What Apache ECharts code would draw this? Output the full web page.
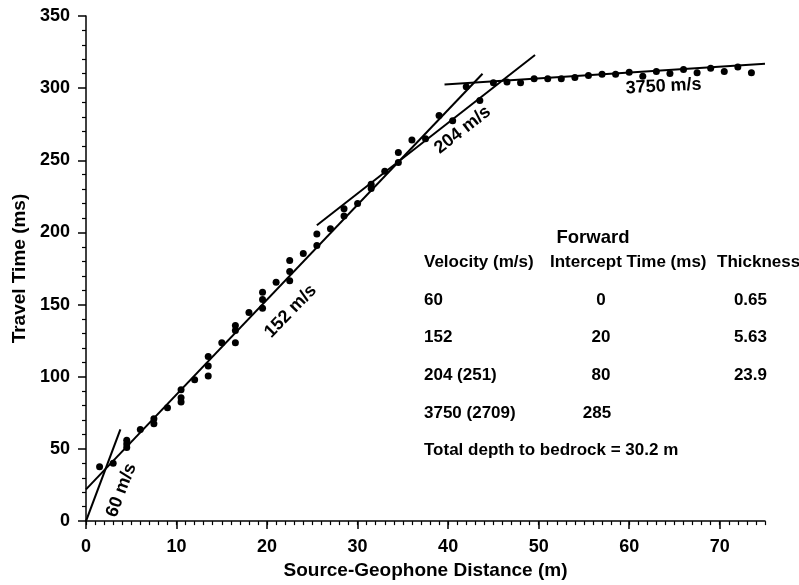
<!DOCTYPE html>
<html><head><meta charset="utf-8">
<script src="https://cdn.jsdelivr.net/npm/echarts@6/dist/echarts.min.js"></script>
<style>html,body{margin:0;padding:0;background:#fff}#c{width:799px;height:585px}</style>
</head><body><div id="c"></div>
<script>
// ---- data ----
const distance = [1.5,3,4.5,4.5,4.5,6,7.5,7.5,9,10.5,10.5,10.5,12,13.5,13.5,13.5,15,16.5,16.5,16.5,18,19.5,19.5,19.5,21,22.5,22.5,22.5,24,25.5,25.5,27,28.5,28.5,30,31.5,31.5,33,34.5,34.5,36,37.5,39,40.5,42,43.5,45,46.5,48,49.5,51,52.5,54,55.5,57,58.5,60,61.5,63,64.5,66,67.5,69,70.5,72,73.5];
const travelTime = [37.7,40,51,53.5,56,63.5,67.5,71,78.5,82.5,85.5,91,98,100.5,107.5,114,123.5,123.5,132,135.5,144.5,147.5,153.5,158.5,165.5,166.5,173,180.5,185.5,191,199,202.5,211.5,216.5,220,230.5,233.5,242.5,248.5,255.5,264,265,281,277.5,301,291.5,303.7,304.2,303.7,306.5,306.5,306.5,307.4,308.8,309.7,309.7,311,308.3,311.5,310.1,312.9,310.6,313.8,311.5,314.7,310.6];
const line60 = [[0,0],[3.8,63.5]];
const line152 = [[0,22],[43.8,310]];
const line204 = [[25.5,205],[49.6,323]];
const line3750 = [[39.6,302.5],[75,316.9]];
const lineLabels = ['60 m/s','152 m/s','204 m/s','3750 m/s'];
const lineLabelX = [3.9,22.6,41.6,63.8];
const lineLabelY = [21.4,145.4,271,301.2];
const xTickLabels = [0,10,20,30,40,50,60,70];
const yTickLabels = [0,50,100,150,200,250,300,350];
const tableTitle = 'Forward';
const tableHeaders = ['Velocity (m/s)','Intercept Time (ms)','Thickness'];
const tableVelocity = ['60','152','204 (251)','3750 (2709)'];
const tableIntercept = ['0','20','80','285'];
const tableThickness = ['0.65','5.63','23.9',''];
const totalDepthText = 'Total depth to bedrock = 30.2 m';

// ---- layout / style ----
const F = 'Arial, "Liberation Sans", sans-serif';
const INK = '#000';
const labelRotate = [69,46,38,3];
const xMinor = [];
for (let i = 0; i <= 75; i++) xMinor.push(i);

const chart = echarts.init(document.getElementById('c'), null, {renderer:'canvas'});

const txt = (text, x, y, align, size, rot) => ({
  type:'text', x:x, y:y, rotation:(rot||0)*Math.PI/180, silent:true, z:10,
  style:{text:text, fill:INK, font:'bold '+(size||17)+'px '+F, textAlign:align||'left', textVerticalAlign:'middle', verticalAlign:'middle'}
});
const graphics = [];
graphics.push(txt(tableTitle, 593, 238, 'center', 18.5));
graphics.push(txt(tableHeaders[0], 424, 262, 'left'));
graphics.push(txt(tableHeaders[1], 550, 262, 'left'));
graphics.push(txt(tableHeaders[2], 717, 262, 'left'));
const rowY = [300,337,375,413];
tableVelocity.forEach((v,i)=>{
  graphics.push(txt(v, 424, rowY[i], 'left'));
  graphics.push(txt(tableIntercept[i], i===3?597:601, rowY[i], 'center'));
  if (tableThickness[i]) graphics.push(txt(tableThickness[i], 767, rowY[i], 'right'));
});
graphics.push(txt(totalDepthText, 424, 450, 'left'));

const lineSeries = (d) => ({
  type:'line', data:d, symbol:'none', z:3, silent:true,
  lineStyle:{color:'#000', width:2}
});

chart.setOption({
  animation:false,
  backgroundColor:'#fff',
  grid:{left:86, right:34, top:16, bottom:61, containLabel:false},
  xAxis:[{
    type:'value', min:0, max:75, interval:10,
    name:'Source-Geophone Distance (m)', nameLocation:'middle', nameGap:39,
    nameTextStyle:{fontSize:19, fontWeight:'bold', color:INK, fontFamily:F},
    axisLine:{show:true, onZero:false, lineStyle:{color:INK, width:1.5}},
    axisTick:{show:true, length:8, customValues:xTickLabels, lineStyle:{color:INK, width:1.5}},
    axisLabel:{customValues:xTickLabels, margin:17, fontSize:18, fontWeight:'bold', color:INK, fontFamily:F},
    splitLine:{show:false}
  },{
    type:'value', min:0, max:75, position:'bottom',
    axisLine:{show:false},
    axisTick:{show:true, length:4, customValues:xMinor, lineStyle:{color:INK, width:1.2}},
    axisLabel:{show:false},
    splitLine:{show:false}
  }],
  yAxis:{
    type:'value', min:0, max:350, interval:50,
    name:'Travel Time (ms)', nameLocation:'middle', nameGap:47,
    nameTextStyle:{fontSize:19, fontWeight:'bold', color:INK, fontFamily:F},
    axisLine:{show:true, onZero:false, lineStyle:{color:INK, width:1.5}},
    axisTick:{show:true, length:8, lineStyle:{color:INK, width:1.5}},
    minorTick:{show:true, splitNumber:5, length:4, lineStyle:{color:INK, width:1.2}},
    axisLabel:{margin:16, fontSize:18, fontWeight:'bold', color:INK, fontFamily:F,
      formatter:(v)=> yTickLabels.indexOf(v) >= 0 ? String(v) : ''},
    splitLine:{show:false}
  },
  series:[
    {type:'scatter', data:distance.map((d,i)=>[d, travelTime[i]]), symbol:'circle', symbolSize:7,
     itemStyle:{color:'#000', opacity:1}, z:4, silent:true},
    lineSeries(line60), lineSeries(line152), lineSeries(line204), lineSeries(line3750)
  ],
  graphic:graphics
});

// rotated velocity labels, placed at data coordinates through the axes
lineLabels.forEach((t,i)=>{
  const p = chart.convertToPixel({gridIndex:0}, [lineLabelX[i], lineLabelY[i]]);
  graphics.push(txt(t, p[0], p[1], 'center', 18, labelRotate[i]));
});
chart.setOption({graphic:graphics});
</script></body></html>
